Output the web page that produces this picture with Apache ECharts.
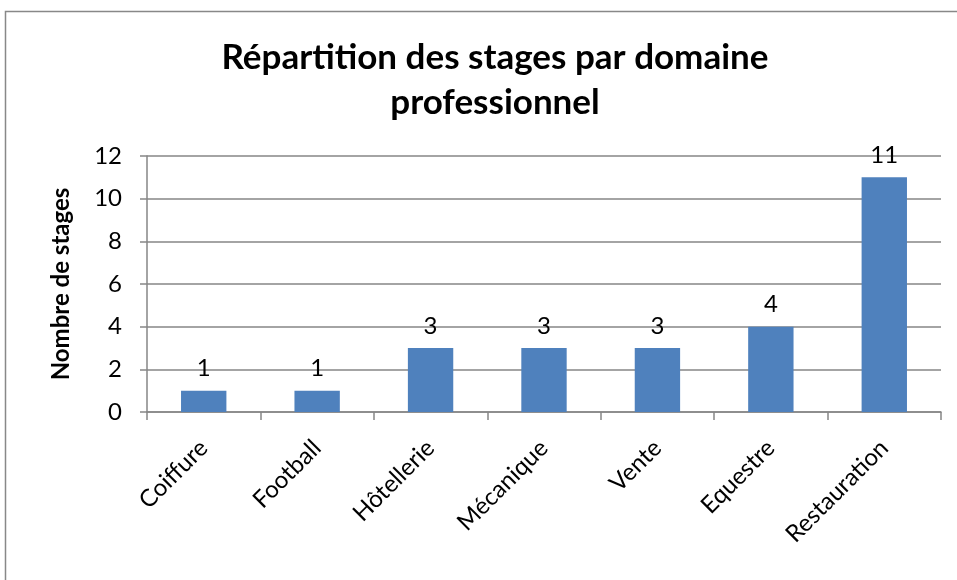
<!DOCTYPE html>
<html><head><meta charset="utf-8">
<script src="https://cdn.jsdelivr.net/npm/echarts@6/dist/echarts.min.js"></script>
<style>html,body{margin:0;padding:0;background:#fff}#c{width:957px;height:580px}</style>
</head><body><div id="c"></div>
<script>
const titleText = 'Répartition des stages par domaine\nprofessionnel';
const yAxisName = 'Nombre de stages';
const categories = ['Coiffure','Football','Hôtellerie','Mécanique','Vente','Equestre','Restauration'];
const values = [1,1,3,3,3,4,11];
const FONT = 'Lato, "Open Sans", sans-serif';
const chart = echarts.init(document.getElementById('c'));
chart.setOption({
  animation:false,
  backgroundColor:'#fff',
  graphic:[{type:'rect',shape:{x:5.5,y:11.5,width:1000,height:700},style:{fill:'none',stroke:'#888',lineWidth:1.5},silent:true}],
  title:{text:titleText,left:490,textAlign:'center',top:30,textStyle:{fontFamily:FONT,fontWeight:'bold',fontSize:35,color:'#000',lineHeight:45}},
  grid:{left:147,right:16,top:156,bottom:168,containLabel:false},
  xAxis:{type:'category',data:categories,
    axisLine:{lineStyle:{color:'#868686',width:1.5}},
    axisTick:{show:true,length:8,alignWithLabel:false,lineStyle:{color:'#868686',width:1.5}},
    axisLabel:{rotate:45,interval:0,margin:32,fontFamily:FONT,fontSize:24,color:'#000'}},
  yAxis:{type:'value',min:0,max:12,interval:2,name:yAxisName,nameLocation:'middle',nameGap:74,
    nameTextStyle:{fontFamily:FONT,fontWeight:'bold',fontSize:24,color:'#000'},
    axisLine:{show:true,lineStyle:{color:'#868686',width:1.5}},
    axisTick:{show:true,length:7,lineStyle:{color:'#868686',width:1.5}},
    splitLine:{lineStyle:{color:'#868686',width:1.5}},
    axisLabel:{margin:25,fontFamily:FONT,fontSize:24,color:'#000'}},
  series:[{type:'bar',data:values,barWidth:'40%',itemStyle:{color:'#4F81BD'},
    label:{show:true,position:'top',distance:10,fontFamily:FONT,fontSize:24,color:'#000'}}]
});
</script></body></html>
